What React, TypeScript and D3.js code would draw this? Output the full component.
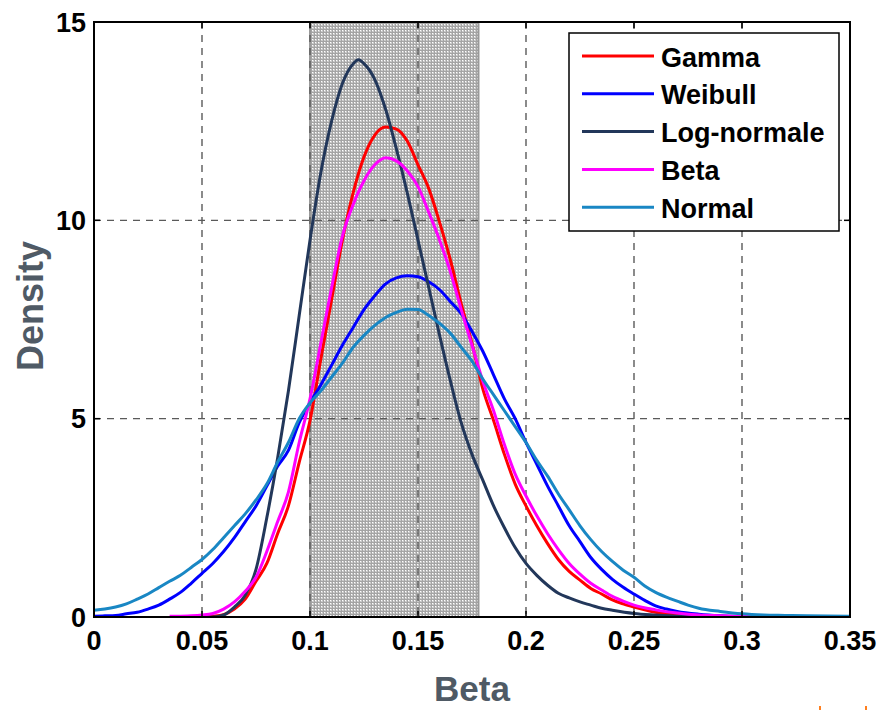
import React from "react";
import * as d3 from "d3";

const xTicks = [0, 0.05, 0.1, 0.15, 0.2, 0.25, 0.3, 0.35];
const xTickLabels = ["0", "0.05", "0.1", "0.15", "0.2", "0.25", "0.3", "0.35"];
const yTicks = [0, 5, 10, 15];
const yTickLabels = ["0", "5", "10", "15"];
const shadeRange = [0.1, 0.178];

const seriesNames = ["Gamma", "Weibull", "Log-normale", "Beta", "Normal"];
const seriesColors = ["#ff0000", "#0000ff", "#22375a", "#ff00ff", "#1987c4"];

const gamma: [number, number][] = [
  [0.045, 0], [0.05, 0], [0.055, 0.02], [0.06, 0.06], [0.065, 0.2], [0.07, 0.45], [0.075, 0.9],
  [0.08, 1.35], [0.085, 2.1], [0.09, 2.8], [0.095, 3.9], [0.1, 4.95], [0.105, 6.5], [0.11, 8.0],
  [0.115, 9.5], [0.12, 10.7], [0.125, 11.6], [0.13, 12.15], [0.135, 12.35], [0.14, 12.3],
  [0.145, 12.0], [0.15, 11.4], [0.155, 10.8], [0.16, 9.95], [0.165, 9.0], [0.17, 7.9],
  [0.175, 6.9], [0.18, 5.75], [0.185, 4.95], [0.19, 4.1], [0.195, 3.35], [0.2, 2.8],
  [0.205, 2.3], [0.21, 1.85], [0.215, 1.45], [0.22, 1.15], [0.225, 0.93], [0.23, 0.72],
  [0.235, 0.58], [0.24, 0.43], [0.245, 0.33], [0.25, 0.25], [0.26, 0.12], [0.27, 0.07],
  [0.28, 0.04], [0.29, 0.02], [0.3, 0.01], [0.32, 0],
];

const weibull: [number, number][] = [
  [0, 0.02], [0.005, 0.03], [0.01, 0.04], [0.015, 0.08], [0.02, 0.12], [0.025, 0.2], [0.03, 0.3],
  [0.035, 0.45], [0.04, 0.62], [0.045, 0.85], [0.05, 1.1], [0.055, 1.35], [0.06, 1.65],
  [0.065, 2.0], [0.07, 2.4], [0.075, 2.8], [0.08, 3.3], [0.085, 3.8], [0.09, 4.2], [0.095, 4.9],
  [0.1, 5.4], [0.105, 5.85], [0.11, 6.35], [0.115, 6.85], [0.12, 7.3], [0.125, 7.75], [0.13, 8.1],
  [0.135, 8.4], [0.14, 8.55], [0.145, 8.6], [0.15, 8.58], [0.155, 8.45], [0.16, 8.25],
  [0.165, 7.95], [0.17, 7.65], [0.175, 7.2], [0.18, 6.7], [0.185, 6.1], [0.19, 5.5], [0.195, 5.0],
  [0.2, 4.4], [0.205, 3.85], [0.21, 3.3], [0.215, 2.8], [0.22, 2.3], [0.225, 1.9], [0.23, 1.5],
  [0.235, 1.2], [0.24, 0.95], [0.245, 0.75], [0.25, 0.58], [0.255, 0.42], [0.26, 0.28],
  [0.265, 0.2], [0.27, 0.14], [0.28, 0.07], [0.29, 0.03], [0.3, 0.01], [0.31, 0],
];

const lognormal: [number, number][] = [
  [0.05, 0], [0.055, 0], [0.06, 0.05], [0.065, 0.25], [0.07, 0.55], [0.075, 1.2], [0.08, 2.5],
  [0.085, 4.0], [0.09, 5.7], [0.095, 7.6], [0.1, 9.5], [0.105, 11.2], [0.11, 12.5],
  [0.115, 13.45], [0.12, 13.95], [0.1225, 14.05], [0.125, 13.95], [0.13, 13.55], [0.135, 12.8],
  [0.14, 11.8], [0.145, 10.7], [0.15, 9.5], [0.155, 8.3], [0.16, 7.1], [0.165, 5.95], [0.17, 4.9],
  [0.175, 4.1], [0.18, 3.45], [0.185, 2.8], [0.19, 2.25], [0.195, 1.75], [0.2, 1.35],
  [0.205, 1.05], [0.21, 0.8], [0.215, 0.6], [0.22, 0.48], [0.225, 0.38], [0.23, 0.3],
  [0.235, 0.22], [0.24, 0.17], [0.25, 0.09], [0.26, 0.05], [0.27, 0.02], [0.28, 0.01], [0.3, 0],
];

const beta: [number, number][] = [
  [0.035, 0.02], [0.04, 0.02], [0.045, 0.03], [0.05, 0.05], [0.055, 0.09], [0.06, 0.2],
  [0.065, 0.38], [0.07, 0.65], [0.075, 1.0], [0.08, 1.65], [0.085, 2.4], [0.09, 3.15],
  [0.095, 4.4], [0.1, 5.5], [0.105, 6.9], [0.11, 8.3], [0.115, 9.6], [0.12, 10.4], [0.125, 11.0],
  [0.13, 11.4], [0.135, 11.58], [0.14, 11.5], [0.145, 11.25], [0.15, 10.85], [0.155, 10.2],
  [0.16, 9.5], [0.165, 8.7], [0.17, 7.75], [0.175, 6.85], [0.18, 5.95], [0.185, 5.2],
  [0.19, 4.35], [0.195, 3.6], [0.2, 3.05], [0.205, 2.55], [0.21, 2.1], [0.215, 1.7],
  [0.22, 1.35], [0.225, 1.08], [0.23, 0.85], [0.235, 0.68], [0.24, 0.52], [0.245, 0.4],
  [0.25, 0.3], [0.26, 0.18], [0.27, 0.1], [0.28, 0.05], [0.29, 0.03], [0.3, 0.01], [0.32, 0],
];

const normal: [number, number][] = [
  [0, 0.17], [0.005, 0.2], [0.01, 0.25], [0.015, 0.33], [0.02, 0.45], [0.025, 0.58],
  [0.03, 0.74], [0.035, 0.9], [0.04, 1.05], [0.045, 1.25], [0.05, 1.45], [0.055, 1.7],
  [0.06, 2.0], [0.065, 2.3], [0.07, 2.6], [0.075, 2.95], [0.08, 3.35], [0.085, 3.9], [0.09, 4.4],
  [0.095, 5.0], [0.1, 5.4], [0.105, 5.7], [0.11, 6.05], [0.115, 6.4], [0.12, 6.8], [0.125, 7.1],
  [0.13, 7.35], [0.135, 7.55], [0.14, 7.68], [0.145, 7.76], [0.15, 7.75], [0.155, 7.6],
  [0.16, 7.4], [0.165, 7.15], [0.17, 6.8], [0.175, 6.45], [0.18, 6.0], [0.185, 5.6], [0.19, 5.2],
  [0.195, 4.8], [0.2, 4.4], [0.205, 3.95], [0.21, 3.55], [0.215, 3.1], [0.22, 2.7], [0.225, 2.3],
  [0.23, 1.95], [0.235, 1.65], [0.24, 1.4], [0.245, 1.18], [0.25, 1.0], [0.255, 0.78],
  [0.26, 0.62], [0.265, 0.5], [0.27, 0.4], [0.275, 0.3], [0.28, 0.22], [0.29, 0.14], [0.3, 0.08],
  [0.31, 0.05], [0.32, 0.04], [0.33, 0.03], [0.35, 0.02],
];

const seriesData = [gamma, weibull, lognormal, beta, normal];

const W = 879;
const H = 710;
const L = 94, R = 850, T = 22, B = 617;
const FONT = "'Liberation Sans', Arial, sans-serif";

export default function App() {
  const x = d3.scaleLinear().domain([0, 0.35]).range([L, R]);
  const y = d3.scaleLinear().domain([0, 15]).range([B, T]);
  const line = d3
    .line<[number, number]>()
    .x((d) => x(d[0]))
    .y((d) => y(d[1]))
    .curve(d3.curveMonotoneX);

  const legX = 569, legY = 33, legW = 270, legH = 198;
  const rowY = (i: number) => 56 + i * 37.8;

  return (
    <svg
      width={W}
      height={H}
      style={{ position: "absolute", left: 0, top: 0, background: "#fff" }}
      fontFamily={FONT}
    >
      <defs>
        <pattern id="dots" width="3" height="3" patternUnits="userSpaceOnUse">
          <rect width="3" height="3" fill="#a4a4a4" />
          <rect width="2" height="2" fill="#cbcbcb" />
          <rect width="1" height="1" fill="#ffffff" />
        </pattern>
        <clipPath id="plot">
          <rect x={L} y={T} width={R - L} height={B - T} />
        </clipPath>
      </defs>
      <rect x={0} y={0} width={W} height={H} fill="#fff" />

      {/* shaded interval */}
      <rect
        x={x(shadeRange[0])}
        y={y(15)}
        width={x(shadeRange[1]) - x(shadeRange[0])}
        height={y(0) - y(15)}
        fill="url(#dots)"
        stroke="#999"
        strokeWidth={2}
      />

      {/* grid */}
      {xTicks.slice(1, -1).map((t) => (
        <line
          key={"gx" + t}
          x1={x(t)}
          x2={x(t)}
          y1={T}
          y2={B}
          stroke="#5a5a5a"
          strokeWidth={1.4}
          strokeDasharray="7,6"
        />
      ))}
      {yTicks.slice(1, -1).map((t) => (
        <line
          key={"gy" + t}
          x1={L}
          x2={R}
          y1={y(t)}
          y2={y(t)}
          stroke="#5a5a5a"
          strokeWidth={1.4}
          strokeDasharray="7,6"
        />
      ))}

      {/* curves */}
      <g clipPath="url(#plot)">
        {seriesData.map((s, i) => (
          <path
            key={seriesNames[i]}
            d={line(s) || ""}
            fill="none"
            stroke={seriesColors[i]}
            strokeWidth={3}
            strokeLinejoin="round"
          />
        ))}
      </g>

      {/* ticks */}
      {xTicks.map((t) => (
        <g key={"tx" + t}>
          <line x1={x(t)} x2={x(t)} y1={B} y2={B - 6} stroke="#000" strokeWidth={1.5} />
          <line x1={x(t)} x2={x(t)} y1={T} y2={T + 6} stroke="#000" strokeWidth={1.5} />
        </g>
      ))}
      {yTicks.map((t) => (
        <g key={"ty" + t}>
          <line x1={L} x2={L + 6} y1={y(t)} y2={y(t)} stroke="#000" strokeWidth={1.5} />
          <line x1={R} x2={R - 6} y1={y(t)} y2={y(t)} stroke="#000" strokeWidth={1.5} />
        </g>
      ))}

      {/* axes box */}
      <rect x={L} y={T} width={R - L} height={B - T} fill="none" stroke="#000" strokeWidth={2} />

      {/* tick labels */}
      {xTicks.map((t, i) => (
        <text
          key={"lx" + t}
          x={x(t)}
          y={650}
          textAnchor="middle"
          fontSize={27}
          fontWeight="bold"
          fill="#000"
        >
          {xTickLabels[i]}
        </text>
      ))}
      {yTicks.map((t, i) => (
        <text
          key={"ly" + t}
          x={86}
          y={y(t) + 9.5}
          textAnchor="end"
          fontSize={27}
          fontWeight="bold"
          fill="#000"
        >
          {yTickLabels[i]}
        </text>
      ))}

      {/* axis titles */}
      <text
        x={(L + R) / 2}
        y={701}
        textAnchor="middle"
        fontSize={35}
        fontWeight="bold"
        fill="#4f5a65"
      >
        Beta
      </text>
      <text
        transform={`translate(43, 306) rotate(-90)`}
        textAnchor="middle"
        fontSize={36}
        fontWeight="bold"
        fill="#4f5a65"
      >
        Density
      </text>

      {/* legend */}
      <rect x={legX} y={legY} width={legW} height={legH} fill="#fff" stroke="#000" strokeWidth={1.5} />
      {seriesNames.map((n, i) => (
        <g key={"leg" + n}>
          <line x1={582} x2={654} y1={rowY(i)} y2={rowY(i)} stroke={seriesColors[i]} strokeWidth={3} />
          <text x={661} y={rowY(i) + 10.5} fontSize={27} fontWeight="bold" fill="#000">
            {n}
          </text>
        </g>
      ))}

      {/* small orange marks */}
      <rect x={819} y={706} width={2} height={4} fill="#ff7f1e" />
      <rect x={865} y={706} width={2} height={4} fill="#ff7f1e" />
    </svg>
  );
}
